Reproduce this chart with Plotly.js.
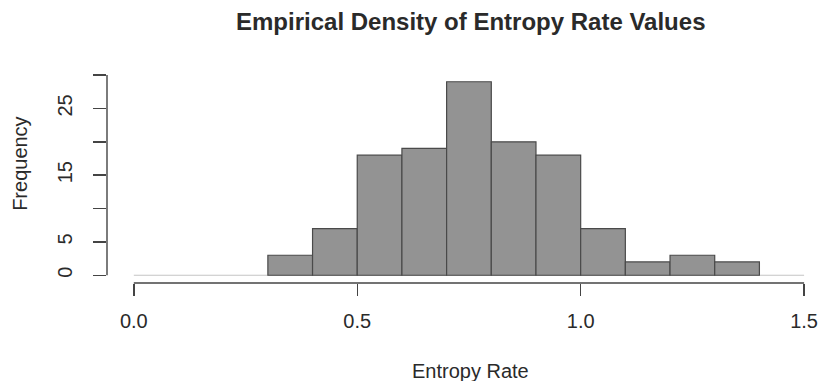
<!DOCTYPE html>
<html>
<head>
<meta charset="utf-8">
<script src="https://cdn.plot.ly/plotly-3.0.1.min.js"></script>
<style>
  html, body { margin: 0; padding: 0; background: #fff; }
  #chart { width: 828px; height: 381px; }
</style>
</head>
<body>
<div id="chart"></div>
<script>
// Histogram bins (left edges) and counts of entropy rate values
const binLefts = [0.3, 0.4, 0.5, 0.6, 0.7, 0.8, 0.9, 1.0, 1.1, 1.2, 1.3];
const binWidth = 0.1;
const counts = [3, 7, 18, 19, 29, 20, 18, 7, 2, 3, 2];

// Axis ticks
const xTickVals = [0, 0.5, 1.0, 1.5];
const xTickText = ['0.0', '0.5', '1.0', '1.5'];
const yTickVals = [0, 5, 10, 15, 20, 25, 30];
const yTickText = ['0', '5', '', '15', '', '25', ''];

const FONT = '"Liberation Sans", Arial, Helvetica, sans-serif';
const INK = '#2a2a2a';
const AXIS = '#444444';

const trace = {
  type: 'bar',
  x: binLefts,
  y: counts,
  width: binLefts.map(() => binWidth),
  offset: 0,
  marker: { color: '#939393', line: { color: '#4a4a4a', width: 1.2 } },
  hoverinfo: 'x+y'
};

const layout = {
  width: 828,
  height: 381,
  margin: { l: 107, r: 0, t: 74, b: 98 },
  paper_bgcolor: '#ffffff',
  plot_bgcolor: '#ffffff',
  showlegend: false,
  font: { family: FONT, color: INK, size: 20 },
  xaxis: {
    range: [-0.06, 1.5535],
    showgrid: false, zeroline: false, showline: false,
    tickmode: 'array', tickvals: xTickVals, ticktext: xTickText,
    ticks: 'outside', ticklen: 12, tickwidth: 1.4, tickcolor: AXIS,
    ticklabelstandoff: 8,
    tickfont: { family: FONT, size: 20, color: INK },
    fixedrange: true
  },
  yaxis: {
    range: [-1.16, 30.16],
    showgrid: false, zeroline: false, showline: false,
    tickmode: 'array', tickvals: yTickVals, ticktext: yTickText,
    ticks: 'outside', ticklen: 13, tickwidth: 1.4, tickcolor: AXIS,
    ticklabelstandoff: 13,
    tickangle: -90,
    tickfont: { family: FONT, size: 20, color: INK },
    fixedrange: true
  },
  shapes: [
    // baseline at zero
    { type: 'line', layer: 'below', xref: 'x', yref: 'y', x0: 0, x1: 1.5, y0: 0, y1: 0,
      line: { color: '#c4c4c4', width: 1.2 } },
    // x axis line spanning the tick range
    { type: 'line', xref: 'x', yref: 'paper', x0: 0, x1: 1.5, y0: 0, y1: 0,
      line: { color: AXIS, width: 1.4 } },
    // y axis line spanning the tick range
    { type: 'line', xref: 'paper', yref: 'y', x0: 0, x1: 0, y0: 0, y1: 30,
      line: { color: AXIS, width: 1.4 } }
  ],
  annotations: [
    { text: '<b>Empirical Density of Entropy Rate Values</b>', xref: 'paper', yref: 'paper',
      x: 0.5045, y: 1, yshift: 53, xanchor: 'center', yanchor: 'middle', showarrow: false,
      font: { family: FONT, size: 24, color: INK } },
    { text: 'Entropy Rate', xref: 'paper', yref: 'paper',
      x: 0.5035, y: 0, yshift: -88, xanchor: 'center', yanchor: 'middle', showarrow: false,
      font: { family: FONT, size: 20, color: INK } },
    { text: 'Frequency', xref: 'paper', yref: 'paper', textangle: -90,
      x: 0, xshift: -87, y: 0.57, xanchor: 'center', yanchor: 'middle', showarrow: false,
      font: { family: FONT, size: 20, color: INK } }
  ]
};

Plotly.newPlot('chart', [trace], layout, { displayModeBar: false, staticPlot: true });
</script>
</body>
</html>
